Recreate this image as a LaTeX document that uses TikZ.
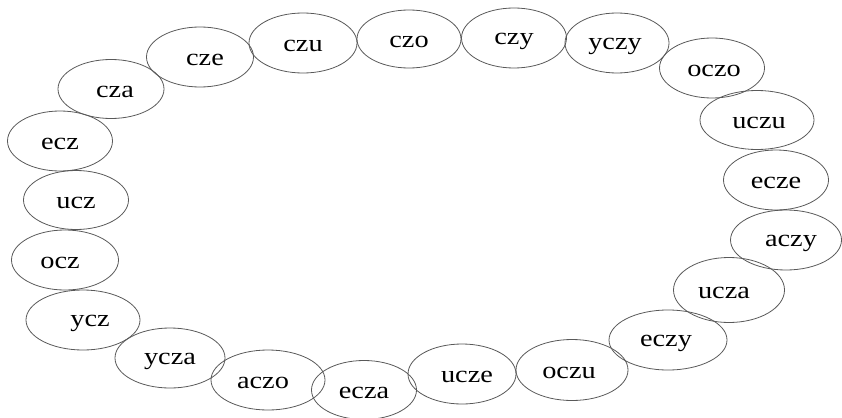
\documentclass[tikz,border=0pt]{standalone}
\usepackage{fontspec}
\setmainfont{Liberation Serif}
\usetikzlibrary{shapes.geometric}
\tikzset{
  word/.style={ellipse, draw=black!65, line width=0.8pt, inner sep=0pt,
    font=\fontsize{24}{24}\selectfont, text=black},
}
% a slightly widened word, nudged sideways by #1 (in pt) and a little down
\newcommand{\lowword}[1]{\raisebox{-3pt}[\height][\depth]{\scalebox{1.18}[1]{#1}}}
\newcommand{\wideword}[2][0]{%
  \ifdim #1pt<0pt \lowword{#2}\hspace*{-2\dimexpr#1pt\relax}%
  \else \hspace*{2\dimexpr#1pt\relax}\lowword{#2}\fi}
\begin{document}
\begin{tikzpicture}[x=1pt, y=-1pt]
\useasboundingbox (0,0) rectangle (842,417);
% words arranged round a ring, clockwise from top left
\node[word, minimum width=107, minimum height=60] (cze)  at (200,57)  {\wideword[5]{cze}};
\node[word, minimum width=108, minimum height=60] (czu)  at (303,43)  {\wideword{czu}};
\node[word, minimum width=104, minimum height=58] (czo)  at (409,39)  {\wideword{czo}};
\node[word, minimum width=105, minimum height=60] (czy)  at (514,38)  {\wideword{czy}};
\node[word, minimum width=104, minimum height=60] (yczy) at (617,43)  {\wideword[-2]{yczy}};
\node[word, minimum width=105, minimum height=60] (oczo) at (712,68)  {\wideword[2]{oczo}};
\node[word, minimum width=114, minimum height=59] (uczu) at (757,120) {\wideword[2]{uczu}};
\node[word, minimum width=105, minimum height=60] (ecze) at (776,180) {\wideword{ecze}};
\node[word, minimum width=111, minimum height=60] (aczy) at (786,240) {\wideword[5]{aczy}};
\node[word, minimum width=111, minimum height=65] (ucza) at (729,290) {\wideword[-5]{ucza}};
\node[word, minimum width=118, minimum height=60] (eczy) at (668,340) {\wideword[-2]{eczy}};
\node[word, minimum width=112, minimum height=61] (oczu) at (572,370) {\wideword[-3]{oczu}};
\node[word, minimum width=108, minimum height=60] (ucze) at (462,374) {\wideword[5]{ucze}};
\node[word, minimum width=105, minimum height=59] (ecza) at (364,390) {\wideword{ecza}};
\node[word, minimum width=114, minimum height=60] (aczo) at (268,380) {\wideword[-5]{aczo}};
\node[word, minimum width=110, minimum height=60] (ycza) at (170,358) {\wideword{ycza}};
\node[word, minimum width=114, minimum height=60] (ycz)  at (83,320)  {\wideword[7]{ycz}};
\node[word, minimum width=107, minimum height=60] (ocz)  at (65,260)  {\wideword[-5]{ocz}};
\node[word, minimum width=105, minimum height=59] (ucz)  at (76,200)  {\wideword{ucz}};
\node[word, minimum width=105, minimum height=60] (ecz)  at (60,141)  {\wideword{ecz}};
\node[word, minimum width=106, minimum height=59] (cza)  at (111,89)  {\wideword[4]{cza}};
\end{tikzpicture}
\end{document}
